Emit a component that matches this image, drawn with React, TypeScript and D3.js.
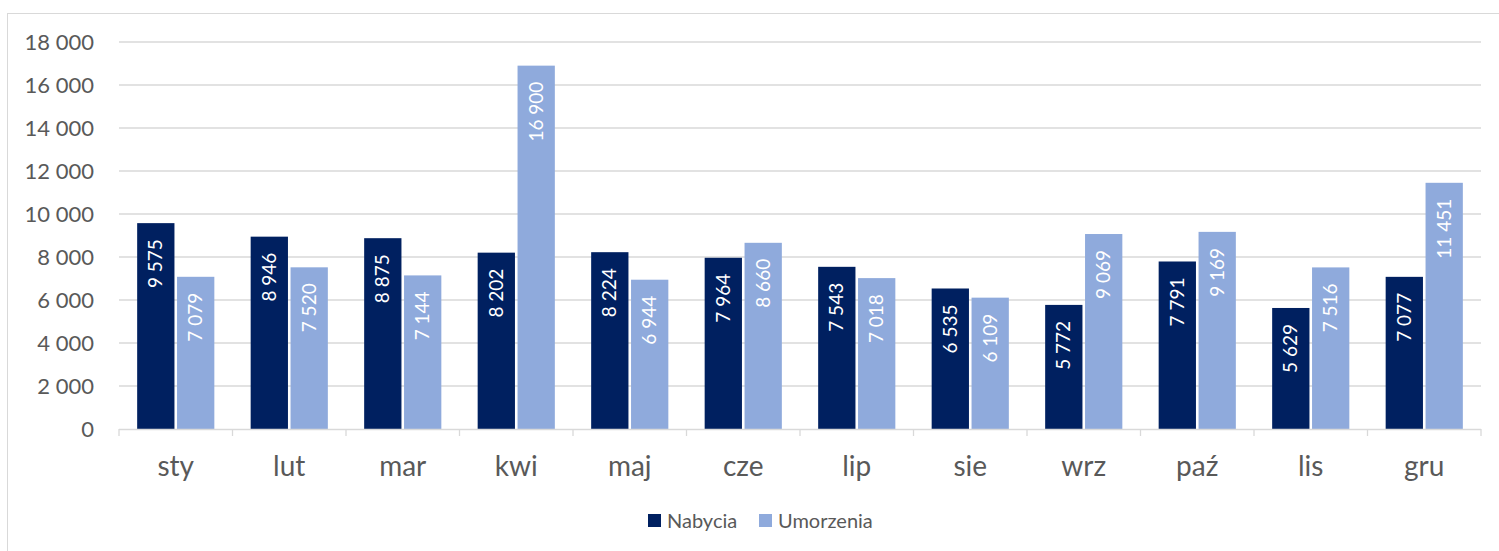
import React, { useEffect, useRef } from 'react';
import * as d3 from 'd3';

const months = ['sty', 'lut', 'mar', 'kwi', 'maj', 'cze', 'lip', 'sie', 'wrz', 'paź', 'lis', 'gru'];
const nabycia = [9575, 8946, 8875, 8202, 8224, 7964, 7543, 6535, 5772, 7791, 5629, 7077];
const umorzenia = [7079, 7520, 7144, 16900, 6944, 8660, 7018, 6109, 9069, 9169, 7516, 11451];
const seriesNames = ['Nabycia', 'Umorzenia'];
const colors = ['#002060', '#8FAADC'];
const yTicks = [0, 2000, 4000, 6000, 8000, 10000, 12000, 14000, 16000, 18000];

const fmt = (v: number) => d3.format(',')(v).replace(/,/g, ' ');

const App = () => {
  const ref = useRef<SVGSVGElement>(null);

  useEffect(() => {
    const width = 1499;
    const height = 551;
    const marginLeft = 119;
    const marginRight = 18;
    const marginTop = 42;
    const plotBottom = 429;
    const font = 'Lato, "Open Sans", sans-serif';

    const svg = d3.select(ref.current);
    svg.selectAll('*').remove();

    // chart border
    svg.append('rect')
      .attr('x', 7.5).attr('y', 13.5)
      .attr('width', width).attr('height', height)
      .attr('fill', 'white').attr('stroke', '#D9D9D9');

    const x = d3.scaleBand<string>()
      .domain(months)
      .range([marginLeft, width - marginRight])
      .paddingInner(0.32)
      .paddingOuter(0.16);

    const xs = d3.scaleBand<string>()
      .domain(seriesNames)
      .range([0, x.bandwidth()])
      .paddingInner(0.065);

    const y = d3.scaleLinear()
      .domain([0, 18000])
      .range([plotBottom, marginTop]);

    // gridlines
    svg.append('g')
      .selectAll('line')
      .data(yTicks.filter(t => t > 0))
      .join('line')
      .attr('x1', marginLeft).attr('x2', width - marginRight)
      .attr('y1', d => y(d)).attr('y2', d => y(d))
      .attr('stroke', '#D9D9D9').attr('stroke-width', 1.3);

    // y tick labels
    svg.append('g')
      .selectAll('text')
      .data(yTicks)
      .join('text')
      .attr('x', 94)
      .attr('y', d => y(d))
      .attr('dy', '0.35em')
      .attr('text-anchor', 'end')
      .attr('fill', '#595959')
      .style('font', `22px ${font}`)
      .text(d => fmt(d));

    // bars
    const data = months.map((m, i) => ({ month: m, values: [nabycia[i], umorzenia[i]] }));
    const groups = svg.append('g')
      .selectAll('g')
      .data(data)
      .join('g')
      .attr('transform', d => `translate(${x(d.month)},0)`);

    groups.selectAll('rect')
      .data(d => d.values.map((v, j) => ({ v, j })))
      .join('rect')
      .attr('x', d => xs(seriesNames[d.j])!)
      .attr('y', d => y(d.v))
      .attr('width', xs.bandwidth())
      .attr('height', d => plotBottom - y(d.v))
      .attr('fill', d => colors[d.j]);

    groups.selectAll('text')
      .data(d => d.values.map((v, j) => ({ v, j })))
      .join('text')
      .attr('transform', d => `translate(${xs(seriesNames[d.j])! + xs.bandwidth() / 2},${y(d.v) + 16}) rotate(-90)`)
      .attr('dy', '0.35em')
      .attr('text-anchor', 'end')
      .attr('fill', 'white')
      .style('font', `19px ${font}`)
      .text(d => fmt(d.v));

    // x axis line and ticks
    svg.append('line')
      .attr('x1', marginLeft).attr('x2', width - marginRight)
      .attr('y1', plotBottom + 0.5).attr('y2', plotBottom + 0.5)
      .attr('stroke', '#D9D9D9').attr('stroke-width', 1.3);

    const step = x.step();
    svg.append('g')
      .selectAll('line')
      .data(d3.range(months.length + 1))
      .join('line')
      .attr('x1', i => marginLeft + i * step).attr('x2', i => marginLeft + i * step)
      .attr('y1', plotBottom).attr('y2', plotBottom + 7)
      .attr('stroke', '#D9D9D9').attr('stroke-width', 1.3);

    svg.append('g')
      .selectAll('text')
      .data(months)
      .join('text')
      .attr('x', d => x(d)! + x.bandwidth() / 2)
      .attr('y', 476)
      .attr('text-anchor', 'middle')
      .attr('fill', '#595959')
      .style('font', `28px ${font}`)
      .text(d => d);

    // legend
    const legend = svg.append('g').attr('transform', 'translate(648,520)');
    const legendX = [0, 111];
    seriesNames.forEach((name, i) => {
      legend.append('rect')
        .attr('x', legendX[i]).attr('y', -6)
        .attr('width', 13).attr('height', 13)
        .attr('fill', colors[i]);
      legend.append('text')
        .attr('x', legendX[i] + 19).attr('y', 1)
        .attr('dy', '0.35em')
        .attr('fill', '#595959')
        .style('font', `20px ${font}`)
        .text(name);
    });
  }, []);

  return (
    <svg
      ref={ref}
      width={1499}
      height={551}
      style={{ position: 'fixed', left: 0, top: 0, background: 'white' }}
    />
  );
};

export default App;
